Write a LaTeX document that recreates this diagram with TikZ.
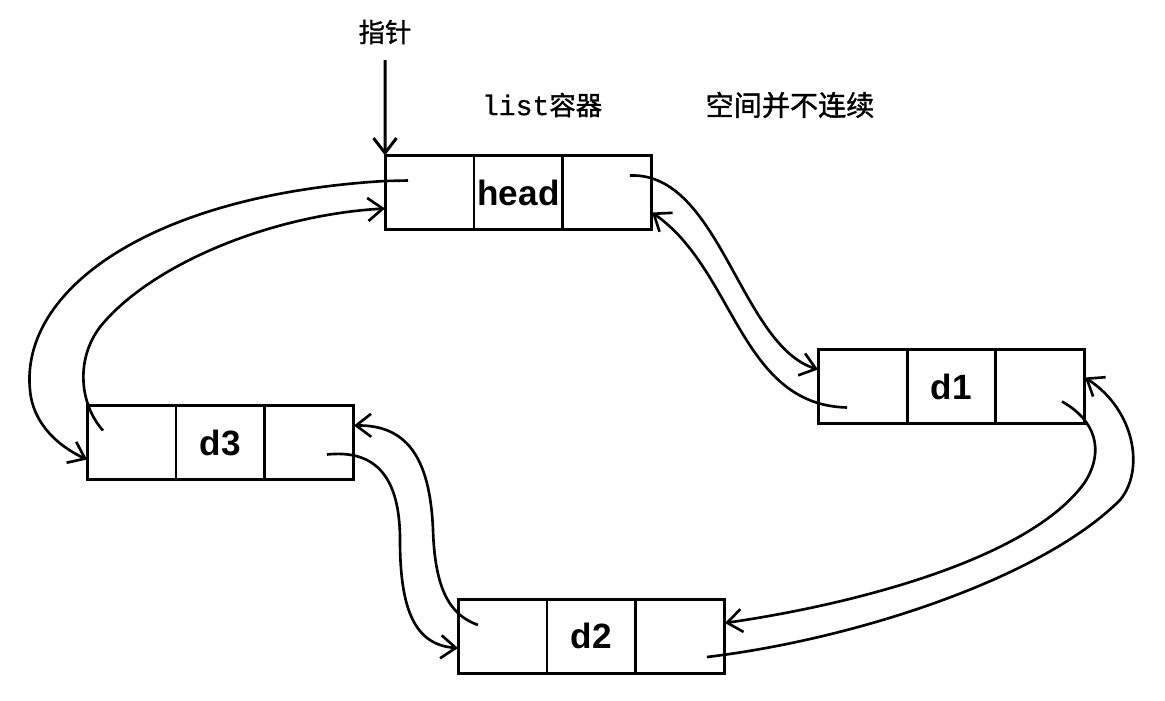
\documentclass[tikz,border=0pt]{standalone}
\usepackage{fontspec}
\usepackage{tikz}
\usetikzlibrary{positioning,arrows.meta,calc}
\newfontfamily\cjk[FakeBold=1.2]{Noto Sans CJK SC}
\newfontfamily\cellfont{Liberation Sans}
\newfontfamily\listmono[FakeBold=0.6]{Liberation Mono}
\tikzset{
  cell/.style={draw, line width=1.7pt, minimum width=1.78cm, minimum height=1.48cm, outer sep=0pt, inner sep=0pt, font=\cellfont\bfseries\fontsize{20}{22}\selectfont},
  link/.style={line width=1.5pt, -{Straight Barb[length=3mm,width=4.6mm]}},
  note/.style={font=\cjk\fontsize{15}{18}\selectfont},
}
\begin{document}
\begin{tikzpicture}[x=0.02cm, y=-0.02cm]
    \useasboundingbox (0,0) rectangle (1165,700);
    % the four nodes of the list, three cells each
    \foreach \n/\t/\x/\y in {head/head/429.5/192.5, d1/d1/862.5/386.5, d3/d3/131.5/442.5, d2/d2/502.5/636}{
      \node[cell] (\n L) at (\x,\y) {};
      \node[cell, right=0pt of \n L] (\n M) {\t};
      \node[cell, right=0pt of \n M] (\n R) {};
    }
    \node[note] (ptr) at (385,32) {指针};
    \node[note] (listlbl) at (542,105) {{\listmono\fontsize{16}{18}\selectfont list}容器};
    \node[note, font=\cjk\fontsize{16}{18}\selectfont] (gaplbl) at (790,105) {空间并不连续};
    \coordinate (ptrtop) at (385,60);
    \draw[link, line width=1.7pt] (ptrtop) -- (headL.north west);
    % start points inside the cells, tips on the cell borders
    \coordinate (s1) at ($(headL.west)+(23,-12)$);
    \coordinate (t1) at ($(d3L.west)+(0,17)$);
    \coordinate (s2) at ($(d3L.west)+(16,-12)$);
    \coordinate (t2) at ($(headL.west)+(0,16)$);
    \coordinate (s3) at ($(headR.east)+(-22,-17)$);
    \coordinate (t3) at ($(d1L.west)+(0,-17)$);
    \coordinate (s4) at ($(d1L.west)+(29,21)$);
    \coordinate (t4) at ($(headR.east)+(0,20)$);
    \coordinate (s5) at ($(d1R.east)+(-23,15)$);
    \coordinate (t5) at ($(d2R.east)+(0,-13)$);
    \coordinate (s6) at ($(d2R.east)+(-18,21)$);
    \coordinate (t6) at ($(d1R.east)+(0,-9)$);
    \coordinate (s7) at ($(d3R.east)+(-27,12)$);
    \coordinate (t7) at ($(d2L.west)+(0,12)$);
    \coordinate (s8) at ($(d2L.west)+(20,-11)$);
    \coordinate (t8) at ($(d3R.east)+(0,-17)$);
    \draw[link] (s1) -- (385,181) .. controls (150,195) and (20,290) .. (30,390) .. controls (33,425) and (60,447) .. (t1);
    \draw[link] (s2) .. controls (80,405) and (75,360) .. (100,327) .. controls (150,265) and (270,215) .. (t2);
    \draw[link] (s3) .. controls (720,172) and (740,345) .. (t3);
    \draw[link] (s4) .. controls (740,405) and (735,270) .. (t4);
    \draw[link] (s5) .. controls (1095,420) and (1105,450) .. (1085,482) .. controls (1030,560) and (850,605) .. (t5);
    \draw[link] (s6) .. controls (850,640) and (1040,580) .. (1120,500) .. controls (1145,470) and (1135,410) .. (t6);
    \draw[link] (s7) .. controls (370,450) and (400,470) .. (400,540) .. controls (400,610) and (415,645) .. (t7);
    \draw[link] (s8) .. controls (450,615) and (435,590) .. (433,530) .. controls (430,455) and (405,425) .. (t8);
  \end{tikzpicture}
\end{document}
